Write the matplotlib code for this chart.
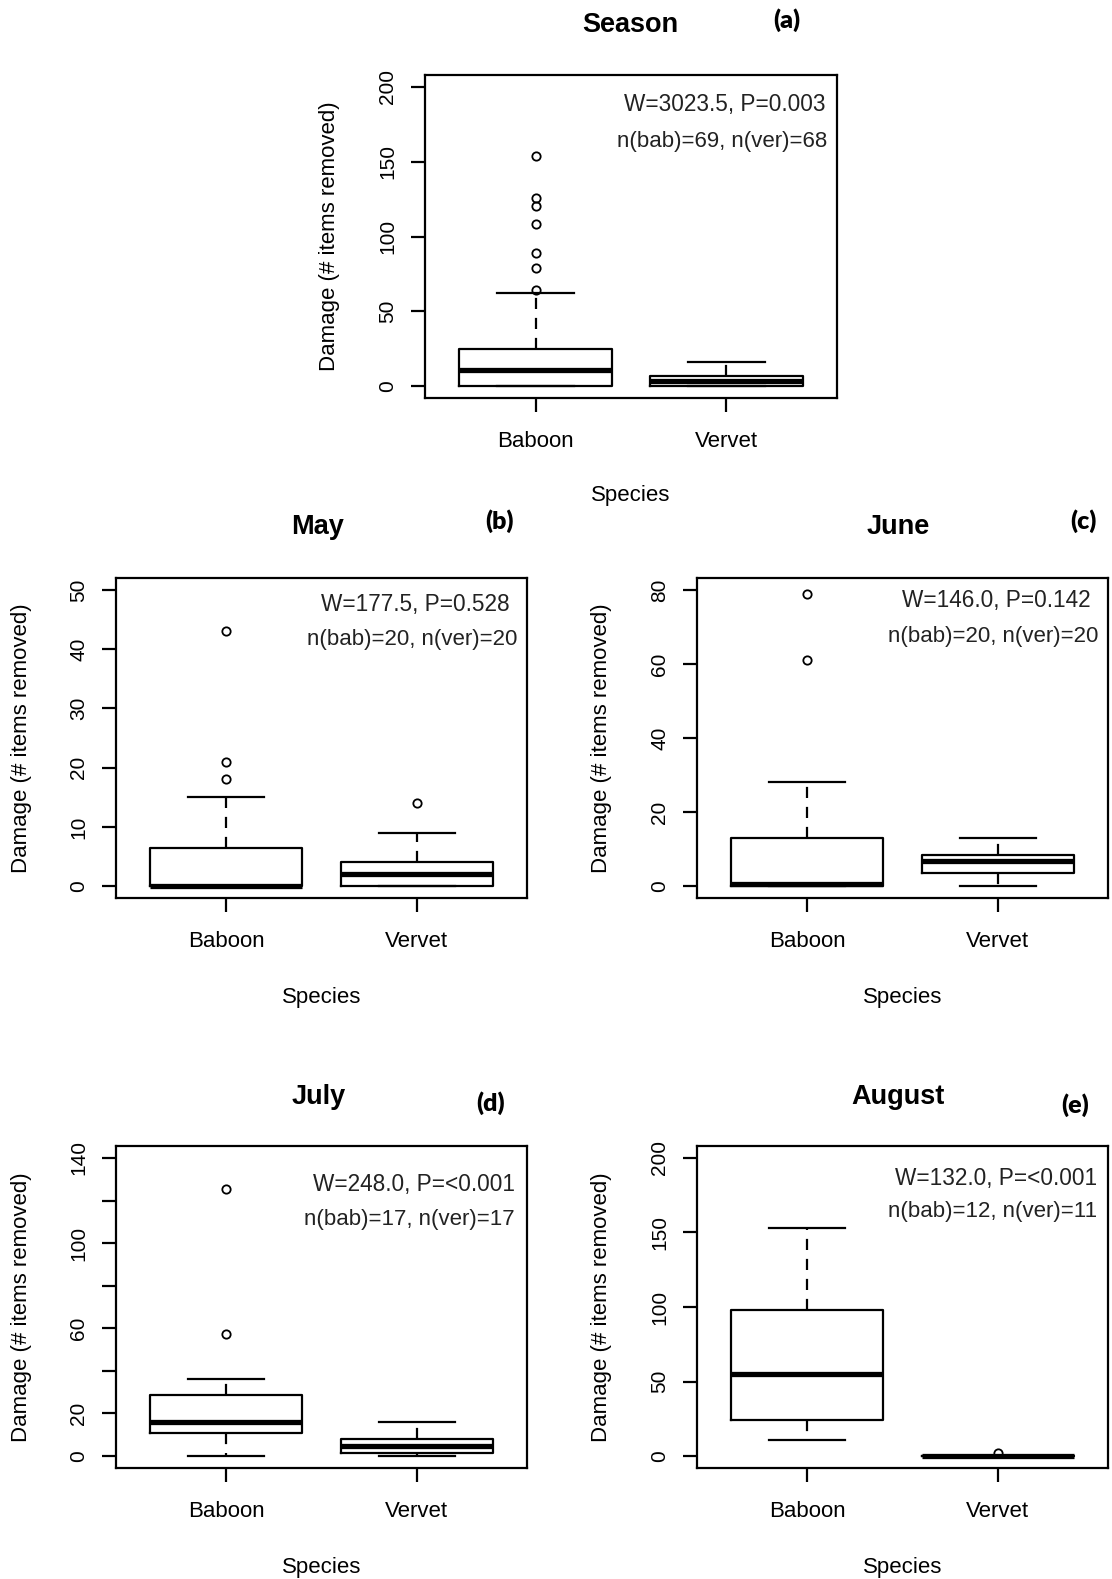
import matplotlib
matplotlib.use("Agg")
import matplotlib.pyplot as plt

# panel data
panels = ["Season", "May", "June", "July", "August"]
panel_tags = ["(a)", "(b)", "(c)", "(d)", "(e)"]
species = ["Baboon", "Vervet"]

bab_lo = [0, 0, 0, 0, 11]
bab_q1 = [0, 0, 0, 11, 24]
bab_med = [11, 0, 0.5, 16, 55]
bab_q3 = [25, 6.5, 13, 28.5, 98]
bab_hi = [62, 15, 28, 36, 153]
bab_out = [[64, 79, 89, 108.5, 120.5, 125.5, 154], [18, 21, 43], [61, 79], [57.5, 125.5], []]

ver_lo = [0, 0, 0, 0, 0]
ver_q1 = [0, 0, 3.6, 1.3, 0]
ver_med = [3.5, 2, 6.7, 4.7, 0]
ver_q3 = [7, 4, 8.3, 7.9, 0]
ver_hi = [16, 9, 13, 16, 0]
ver_out = [[], [14], [], [], [2]]

y_top = [200, 50, 80, 140, 200]
y_step = [50, 10, 20, 20, 50]
y_labels = [None, None, None, [0, 20, 60, 100, 140], None]

w_text = ["W=3023.5, P=0.003", "W=177.5, P=0.528", "W=146.0, P=0.142",
          "W=248.0, P=<0.001", "W=132.0, P=<0.001"]
n_text = ["n(bab)=69, n(ver)=68", "n(bab)=20, n(ver)=20", "n(bab)=20, n(ver)=20",
          "n(bab)=17, n(ver)=17", "n(bab)=12, n(ver)=11"]

W, H = 1112, 1579
fig = plt.figure(figsize=(W / 100, H / 100), dpi=100)
fig.patch.set_facecolor("white")

def fx(x):
    return x / W

def fy(y):
    return 1 - y / H

# axes boxes in pixels: left, top, right, bottom
rects = [(425, 75, 837, 398), (116, 578, 527, 898), (697, 578, 1108, 898),
         (116, 1146, 527, 1468), (697, 1146, 1108, 1468)]
title_pos = [(630, 25), (318, 527), (898, 527), (319, 1097), (898, 1097)]
tag_pos = [(787, 20), (500, 521), (1083, 521), (491, 1103), (1075, 1105)]
ylab_x = [329, 22, 602, 22, 602]
w_right = [826, 510, 1091, 515, 1097]
n_right = [827, 517, 1098, 515, 1097]
w_y = [105, 604, 601, 1184, 1178]
n_y = [142, 639, 636, 1220, 1212]
species_y = [495, 997, 997, 1567, 1567]

lw = 1.6
font = "Liberation Sans"

for i in range(5):
    l, t, r, b = rects[i]
    ax = fig.add_axes([fx(l), fy(b), fx(r - l), (b - t) / H])
    stats = [
        dict(whislo=bab_lo[i], q1=bab_q1[i], med=bab_med[i], q3=bab_q3[i],
             whishi=bab_hi[i], fliers=bab_out[i]),
        dict(whislo=ver_lo[i], q1=ver_q1[i], med=ver_med[i], q3=ver_q3[i],
             whishi=ver_hi[i], fliers=ver_out[i]),
    ]
    ax.bxp(stats, positions=[1, 2], widths=0.8, capwidths=0.4,
           boxprops=dict(color="black", lw=lw),
           medianprops=dict(color="black", lw=3.8, solid_capstyle="butt"),
           whiskerprops=dict(color="black", lw=lw, linestyle=(0, (5, 4))),
           capprops=dict(color="black", lw=lw),
           flierprops=dict(marker="o", markerfacecolor="none", markeredgecolor="black",
                           markersize=6, markeredgewidth=1.3))
    top = y_top[i]
    ax.set_xlim(0.42, 2.58)
    ax.set_ylim(-0.04 * top, 1.04 * top)
    ticks = list(range(0, top + 1, y_step[i]))
    ax.set_yticks(ticks)
    labs = y_labels[i]
    ax.set_yticklabels([str(v) if (labs is None or v in labs) else "" for v in ticks],
                       rotation=90, va="center", fontsize=15, family=font)
    ax.set_xticks([1, 2])
    ax.set_xticklabels(species, fontsize=16, family=font)
    ax.tick_params(length=10, width=lw, color="black")
    ax.tick_params(axis="y", pad=10)
    ax.tick_params(axis="x", pad=14)
    for sp in ax.spines.values():
        sp.set_linewidth(lw)
        sp.set_color("black")

    fig.text(fx(title_pos[i][0]), fy(title_pos[i][1]), panels[i], ha="center", va="center",
             fontsize=19.5, fontweight="bold", family=font)
    fig.text(fx(tag_pos[i][0]), fy(tag_pos[i][1]), panel_tags[i], ha="center", va="center",
             fontsize=18, fontweight="heavy", family="Lato")
    fig.text(fx(ylab_x[i]), fy((t + b) / 2), "Damage (# items removed)", rotation=90,
             ha="center", va="center", fontsize=16, family=font)
    fig.text(fx((l + r) / 2), fy(species_y[i]), "Species", ha="center", va="center",
             fontsize=16, family=font)
    fig.text(fx(w_right[i]), fy(w_y[i]), w_text[i], ha="right", va="center",
             fontsize=16.3, family=font, color="#222222")
    fig.text(fx(n_right[i]), fy(n_y[i]), n_text[i], ha="right", va="center",
             fontsize=16, family=font, color="#222222")

fig.savefig("out.png", dpi=100, facecolor="white")
